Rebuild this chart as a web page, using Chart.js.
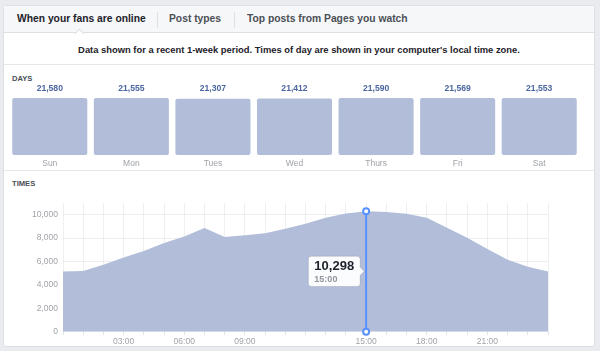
<!DOCTYPE html>
<html>
<head>
<meta charset="utf-8">
<script src="https://cdn.jsdelivr.net/npm/chart.js@4.4.0/dist/chart.umd.min.js"></script>
<style>
  body { margin: 0; background: #e9ebee; font-family: "Liberation Sans", Arial, Helvetica, sans-serif; }
  #page { position: relative; width: 600px; height: 351px; overflow: hidden; }
  .card { position: absolute; left: 3px; top: 5px; width: 592px; height: 342px; box-sizing: border-box;
          background: #fff; border: 1px solid #dddfe2; border-radius: 3px; }
  .tabbar { position: absolute; left: 4px; top: 6px; width: 590px; height: 26px; background: #f6f7f9;
            border-bottom: 1px solid #dddfe2; }
  .tab { position: absolute; top: 6px; height: 26px; line-height: 26px; font-size: 10.3px; font-weight: bold; color: #4b4f56; }
  .tab.active { color: #1d2129; }
  .tabsep { position: absolute; top: 12px; width: 1px; height: 16px; background: #dddfe2; }
  .notch { position: absolute; left: 76px; top: 30px; width: 6px; height: 6px; background: #fff;
           border-left: 1px solid #dddfe2; border-top: 1px solid #dddfe2; transform: rotate(45deg); }
  .info { position: absolute; left: 4px; width: 590px; top: 43px; text-align: center; font-size: 9.4px;
          font-weight: bold; color: #1d2129; line-height: 14px; }
  .hr { position: absolute; left: 4px; width: 590px; height: 1px; background: #e5e7ea; }
  .label { position: absolute; left: 12px; font-size: 7.6px; font-weight: bold; color: #4b4f56; line-height: 10px; }
  canvas { position: absolute; left: 0; }
</style>
</head>
<body>
<div id="page">
  <div class="card"></div>
  <div class="tabbar"></div>
  <div class="tab active" style="left:17px">When your fans are online</div>
  <div class="tabsep" style="left:157px"></div>
  <div class="tab" style="left:169px">Post types</div>
  <div class="tabsep" style="left:234px"></div>
  <div class="tab" style="left:247px">Top posts from Pages you watch</div>
  <div class="notch"></div>
  <div class="info">Data shown for a recent 1-week period. Times of day are shown in your computer's local time zone.</div>
  <div class="hr" style="top:64px"></div>
  <div class="label" style="top:74px">DAYS</div>
  <div class="hr" style="top:170px"></div>
  <div class="label" style="top:179px">TIMES</div>
  <canvas id="daysChart" width="600" height="104" style="top:66px"></canvas>
  <canvas id="timesChart" width="600" height="157" style="top:190px"></canvas>
</div>
<script>
const days = ['Sun', 'Mon', 'Tues', 'Wed', 'Thurs', 'Fri', 'Sat'];
const dayValues = [21580, 21555, 21307, 21412, 21590, 21569, 21553];

const hours = ['00:00', '01:00', '02:00', '03:00', '04:00', '05:00', '06:00', '07:00', '08:00',
               '09:00', '10:00', '11:00', '12:00', '13:00', '14:00', '15:00', '16:00', '17:00',
               '18:00', '19:00', '20:00', '21:00', '22:00', '23:00', '24:00'];
const hourValues = [5150, 5180, 5730, 6350, 6900, 7580, 8130, 8870, 8100, 8250, 8420, 8790, 9220,
                    9740, 10110, 10298, 10230, 10090, 9750, 8880, 8020, 7070, 6160, 5560, 5150];
const shownHourTicks = ['03:00', '06:00', '09:00', '15:00', '18:00', '21:00'];
const yTicks = [0, 2000, 4000, 6000, 8000, 10000];
const activeHour = '15:00';

const FONT = '"Liberation Sans", Arial, Helvetica, sans-serif';
const fillColor = '#b1bdd9';
const fmt = v => v.toLocaleString('en-US');

// numbers above the day bars
const barValueLabels = {
    id: 'barValueLabels',
    afterDatasetsDraw(chart) {
        const ctx = chart.ctx;
        const meta = chart.getDatasetMeta(0);
        ctx.save();
        ctx.font = 'bold 8.6px ' + FONT;
        ctx.fillStyle = '#4c669f';
        ctx.textAlign = 'center';
        ctx.textBaseline = 'middle';
        meta.data.forEach((bar, i) => {
            ctx.fillText(fmt(dayValues[i]), bar.x, chart.chartArea.top - 9);
        });
        ctx.restore();
    }
};

new Chart(document.getElementById('daysChart'), {
    type: 'bar',
    data: {
        labels: days,
        datasets: [{
            data: dayValues,
            backgroundColor: fillColor,
            borderRadius: 2,
            borderSkipped: false,
            barPercentage: 0.92,
            categoryPercentage: 1
        }]
    },
    options: {
        responsive: false,
        animation: false,
        events: [],
        layout: { padding: { left: 9, right: 20, top: 32, bottom: 0 } },
        plugins: { legend: { display: false }, tooltip: { enabled: false } },
        scales: {
            x: {
                grid: { display: false, drawTicks: false },
                border: { display: false },
                ticks: { color: '#a0a3a9', font: { size: 8.5, family: FONT }, padding: 4 },
                afterFit: s => { s.height = 15; }
            },
            y: {
                display: false,
                min: 0,
                max: Math.max(...dayValues)
            }
        }
    },
    plugins: [barValueLabels]
});

// blue hover line with the two rings
const hoverLine = {
    id: 'hoverLine',
    afterDraw(chart) {
        const ctx = chart.ctx;
        const pt = chart.getDatasetMeta(0).data[hours.indexOf(activeHour)];
        const bottom = chart.scales.y.getPixelForValue(0);
        ctx.save();
        ctx.strokeStyle = '#5890ff';
        ctx.lineWidth = 2;
        ctx.beginPath();
        ctx.moveTo(pt.x, pt.y);
        ctx.lineTo(pt.x, bottom);
        ctx.stroke();
        [pt.y, bottom].forEach(y => {
            ctx.beginPath();
            ctx.arc(pt.x, y, 3, 0, Math.PI * 2);
            ctx.fillStyle = '#fff';
            ctx.fill();
            ctx.stroke();
        });
        ctx.restore();
    }
};

Chart.Tooltip.positioners.midArea = function(items) {
    if (!items.length) return false;
    const a = this.chart.chartArea;
    return { x: items[0].element.x, y: (a.top + a.bottom) / 2 + 4 };
};

const gridColor = 'rgba(222,225,230,0.55)';

const timesChart = new Chart(document.getElementById('timesChart'), {
    type: 'line',
    data: {
        labels: hours,
        datasets: [{
            data: hourValues,
            fill: 'origin',
            backgroundColor: fillColor,
            borderWidth: 0,
            pointRadius: 0,
            tension: 0
        }]
    },
    options: {
        responsive: false,
        animation: false,
        events: [],
        layout: { padding: { left: 0, right: 52, top: 13, bottom: 0 } },
        plugins: {
            legend: { display: false },
            tooltip: {
                position: 'midArea',
                xAlign: 'right',
                yAlign: 'center',
                backgroundColor: '#fbfcfd',
                borderColor: 'rgba(0,0,0,0.12)',
                borderWidth: 1,
                cornerRadius: 3,
                caretSize: 4,
                caretPadding: 2,
                displayColors: false,
                padding: { top: 3, bottom: 2, left: 6, right: 6 },
                titleFont: { family: FONT, size: 13, weight: 'bold', lineHeight: 1.1 },
                titleColor: '#1d2129',
                titleMarginBottom: 1,
                bodyFont: { family: FONT, size: 9, weight: 'bold', lineHeight: 1.1 },
                bodyColor: '#90949c',
                callbacks: {
                    title: items => fmt(items[0].raw),
                    label: item => item.label
                }
            }
        },
        scales: {
            x: {
                z: 1,
                grid: { color: gridColor, tickColor: '#dfe1e5', tickLength: 3 },
                border: { display: false },
                ticks: {
                    autoSkip: false,
                    maxRotation: 0,
                    color: '#a0a3a9',
                    font: { size: 8.5, family: FONT },
                    padding: 2,
                    callback: function(v) {
                        const l = this.getLabelForValue(v);
                        return shownHourTicks.includes(l) ? l : '';
                    }
                },
                afterFit: s => { s.height = 15.3; }
            },
            y: {
                z: 1,
                min: 0,
                max: 11000,
                grid: { color: gridColor, drawTicks: false },
                border: { display: false },
                afterBuildTicks: s => { s.ticks = yTicks.map(v => ({ value: v })); },
                ticks: {
                    color: '#a0a3a9',
                    font: { size: 8.5, family: FONT },
                    padding: 5,
                    callback: v => fmt(v)
                },
                afterFit: s => { s.width = 63; }
            }
        }
    },
    plugins: [hoverLine]
});

timesChart.tooltip.setActiveElements([{ datasetIndex: 0, index: hours.indexOf(activeHour) }], { x: 0, y: 0 });
timesChart.update();
</script>
</body>
</html>
